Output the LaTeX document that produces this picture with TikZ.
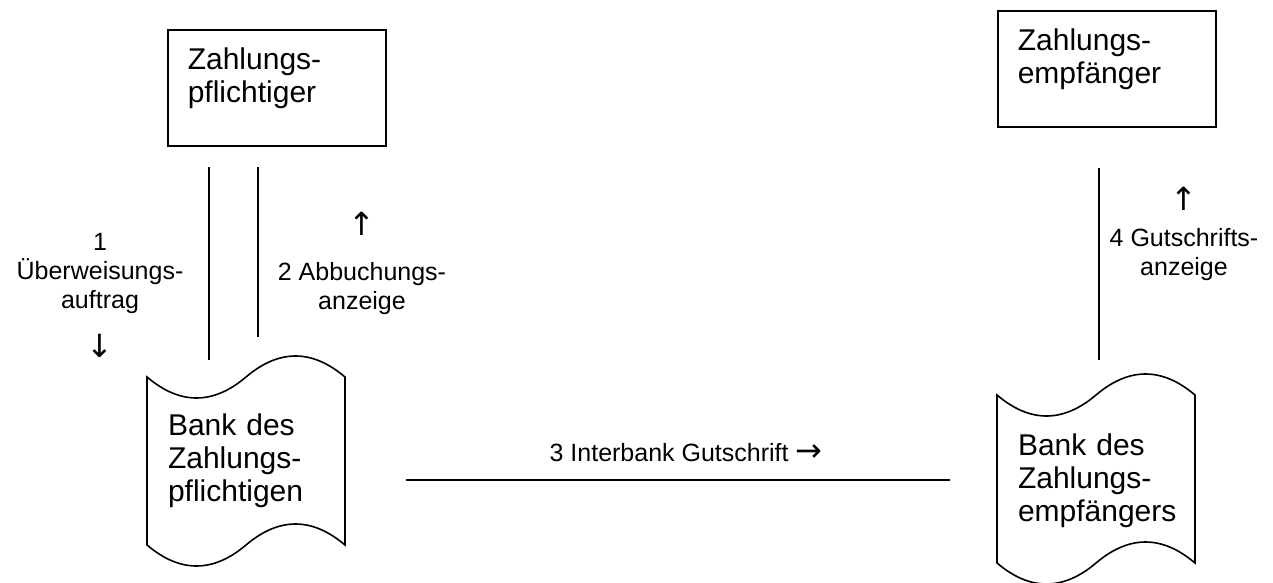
\documentclass[tikz,border=0pt]{standalone}
\usepackage{fontspec}
\setmainfont{Liberation Sans}
\newfontfamily\arrowfont{DejaVu Sans}
\newcommand\flowarrow[1]{{\arrowfont\fontsize{16}{14.5}\selectfont #1}}
\begin{document}
\begin{tikzpicture}[x=0.5pt,y=-0.5pt,
    party/.style={draw,thick,align=left,text width=89pt,inner xsep=10pt,inner ysep=0pt,
      text height=20pt,text depth=38pt,font=\fontsize{15}{16.5}\selectfont},
    bank/.style={align=left,text width=78pt,inner sep=0pt,font=\fontsize{15}{16.5}\selectfont},
    flow/.style={align=center,font=\fontsize{12.5}{14.5}\selectfont},
    tapeform/.pic={
        \draw[thick] (-99,-84) .. controls (-66,-56) and (-33,-56) .. (0,-84)
            .. controls (33,-112) and (66,-112) .. (99,-84) -- (99,84)
            .. controls (66,56) and (33,56) .. (0,84)
            .. controls (-33,112) and (-66,112) .. (-99,84) -- cycle;
    }]
        \useasboundingbox (0,0) rectangle (1273,583);

        \node[party,anchor=north west] (zp) at (167,29) {Zahlungs-\\pflichtiger};
        \node[party,anchor=north west] (ze) at (997,10) {Zahlungs-\\empfänger};

        % Banken als Lochstreifen
        \node[bank] (bzp) at (246,461) {Bank des\\Zahlungs-\\pflichtigen};
        \node[bank] (bze) at (1096,481) {Bank des\\Zahlungs-\\empfängers};
        \pic at (246,461) {tapeform};
        \pic at (1096,479) {tapeform};

        \coordinate (a1) at (209,167); \coordinate (b1) at (209,360);
        \coordinate (a2) at (258,167); \coordinate (b2) at (258,337);
        \coordinate (a4) at (1099,168); \coordinate (b4) at (1099,360);
        \coordinate (h1) at (406,480); \coordinate (h2) at (950,480);

        \draw[thick] (a1)--(b1);
        \draw[thick] (a2)--(b2);
        \draw[thick] (a4)--(b4);
        \draw[thick] (h1)--(h2);

        \node[flow] (l1) at (100,295) {1\\Überweisungs-\\auftrag\\[10pt]\flowarrow{↓}};
        \node[flow] (l2) at (362,263) {\flowarrow{↑}\\[8pt]2 Abbuchungs-\\anzeige};
        \node[flow,anchor=base] (l3) at (686,461) {3 Interbank Gutschrift \flowarrow{→}};
        \node[flow] (l4) at (1184,234) {\flowarrow{↑}\\[3.5pt]4 Gutschrifts-\\anzeige};
\end{tikzpicture}
\end{document}
